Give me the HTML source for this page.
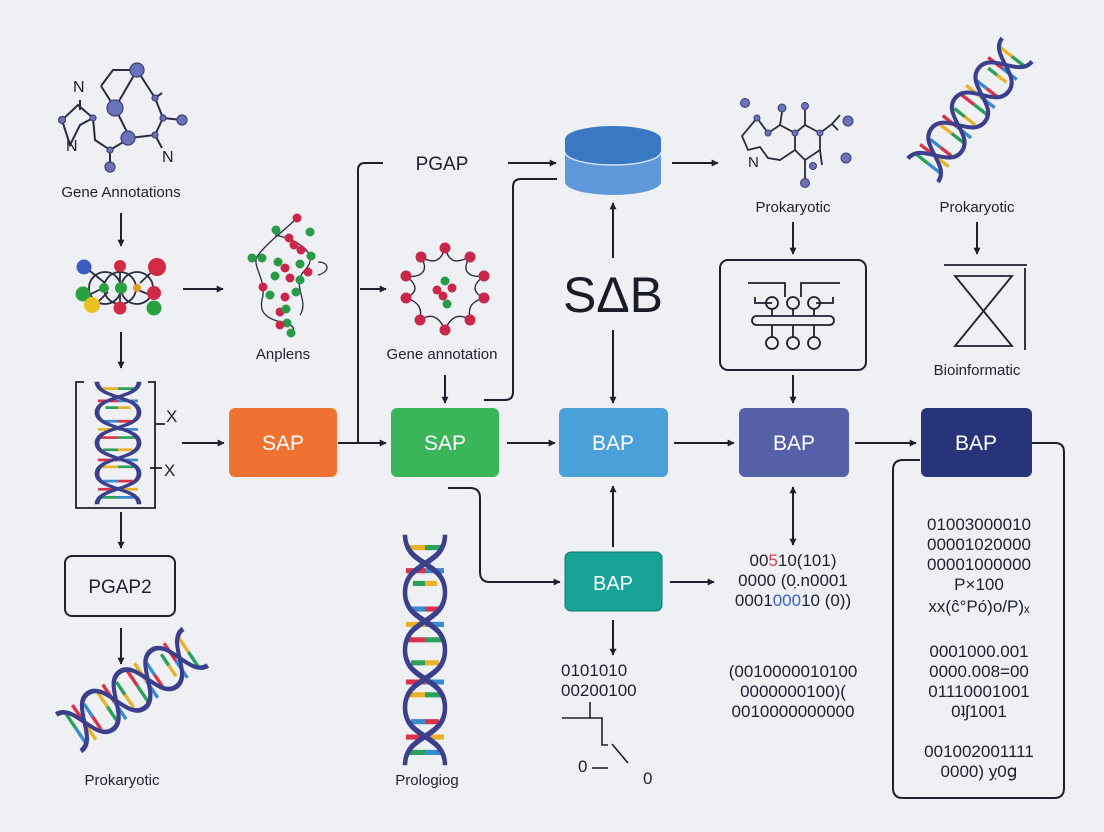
<!DOCTYPE html>
<html><head><meta charset="utf-8"><style>
html,body{margin:0;padding:0;background:#eef0f3;}
svg{display:block}
text{font-family:"Liberation Sans",sans-serif;}
</style></head><body>
<svg width="1104" height="832" viewBox="0 0 1104 832" xmlns="http://www.w3.org/2000/svg">
<defs>
<marker id="ah" viewBox="0 0 10 10" refX="9" refY="5" markerWidth="7" markerHeight="7" orient="auto-start-reverse" markerUnits="userSpaceOnUse">
<path d="M0,0 L10,5 L0,10 z" fill="#1e2030"/></marker>
<g id="helix">
 <g stroke-width="4">
  <line x1="-16" y1="-80" x2="0" y2="-80" stroke="#e8b22a"/><line x1="0" y1="-80" x2="16" y2="-80" stroke="#2aa05a"/>
  <line x1="-19" y1="-62" x2="0" y2="-62" stroke="#d8334a"/><line x1="0" y1="-62" x2="19" y2="-62" stroke="#3a8ad0"/>
  <line x1="-12" y1="-52" x2="0" y2="-52" stroke="#2aa05a"/><line x1="0" y1="-52" x2="12" y2="-52" stroke="#e8b22a"/>
  <line x1="-14" y1="-32" x2="0" y2="-32" stroke="#3a8ad0"/><line x1="0" y1="-32" x2="14" y2="-32" stroke="#d8334a"/>
  <line x1="-19" y1="-20" x2="0" y2="-20" stroke="#e8b22a"/><line x1="0" y1="-20" x2="19" y2="-20" stroke="#3a8ad0"/>
  <line x1="-19" y1="-8" x2="0" y2="-8" stroke="#d8334a"/><line x1="0" y1="-8" x2="19" y2="-8" stroke="#2aa05a"/>
  <line x1="-14" y1="10" x2="0" y2="10" stroke="#2aa05a"/><line x1="0" y1="10" x2="14" y2="10" stroke="#e8b22a"/>
  <line x1="-19" y1="25" x2="0" y2="25" stroke="#d8334a"/><line x1="0" y1="25" x2="19" y2="25" stroke="#3a8ad0"/>
  <line x1="-17" y1="35" x2="0" y2="35" stroke="#e8b22a"/><line x1="0" y1="35" x2="17" y2="35" stroke="#2aa05a"/>
  <line x1="-14" y1="56" x2="0" y2="56" stroke="#3a8ad0"/><line x1="0" y1="56" x2="14" y2="56" stroke="#d8334a"/>
  <line x1="-19" y1="68" x2="0" y2="68" stroke="#d8334a"/><line x1="0" y1="68" x2="19" y2="68" stroke="#e8b22a"/>
  <line x1="-17" y1="80" x2="0" y2="80" stroke="#2aa05a"/><line x1="0" y1="80" x2="17" y2="80" stroke="#3a8ad0"/>
 </g>
 <g fill="none" stroke="#3c3f8c" stroke-width="4.5">
  <path d="M-20,-90 C-20,-65 20,-70 20,-45 C20,-20 -20,-25 -20,0 C-20,25 20,20 20,45 C20,70 -20,65 -20,90"/>
  <path d="M20,-90 C20,-65 -20,-70 -20,-45 C-20,-20 20,-25 20,0 C20,25 -20,20 -20,45 C-20,70 20,65 20,90"/>
 </g>
</g>
</defs>
<rect width="1104" height="832" fill="#eef0f3"/>

<g stroke="#2a2c40" stroke-width="2" fill="none">
 <polyline points="101,86 113,70 137,70"/>
 <polyline points="101,86 115,108 137,70 155,98 163,118 155,135 130,138 110,150 95,140 93,118 80,125 70,145 62,120 78,105 93,118"/>
 <line x1="115" y1="108" x2="130" y2="138"/><line x1="110" y1="150" x2="110" y2="167"/>
 <line x1="155" y1="98" x2="162" y2="93"/><line x1="163" y1="118" x2="182" y2="120"/><line x1="155" y1="135" x2="162" y2="148"/>
 <line x1="80" y1="100" x2="80" y2="110"/>
</g>
<g fill="#6a72b8" stroke="#3c3f7a" stroke-width="1.2">
 <circle cx="137" cy="70" r="7"/><circle cx="115" cy="108" r="8"/><circle cx="128" cy="138" r="7"/><circle cx="182" cy="120" r="5"/>
 <circle cx="110" cy="167" r="5"/><circle cx="62" cy="120" r="3.5"/><circle cx="93" cy="118" r="3"/><circle cx="155" cy="135" r="3"/><circle cx="163" cy="118" r="3"/><circle cx="110" cy="150" r="3"/><circle cx="155" cy="98" r="3"/>
</g>
<text x="73" y="92" font-size="16" fill="#1e2030">N</text>
<text x="66" y="151" font-size="16" fill="#1e2030">N</text>
<text x="162" y="162" font-size="16" fill="#1e2030">N</text>
<text x="121" y="197" font-size="15" text-anchor="middle" fill="#1e2030">Gene Annotations</text>

<g stroke="#1e2030" stroke-width="2" fill="none">
 <line x1="121" y1="213" x2="121" y2="246" marker-end="url(#ah)"/>
 <line x1="121" y1="332" x2="121" y2="368" marker-end="url(#ah)"/>
 <line x1="183" y1="289" x2="223" y2="289" marker-end="url(#ah)"/>
 <line x1="182" y1="443" x2="224" y2="443" marker-end="url(#ah)"/>
 <line x1="121" y1="512" x2="121" y2="548" marker-end="url(#ah)"/>
 <line x1="121" y1="628" x2="121" y2="664" marker-end="url(#ah)"/>
 <line x1="338" y1="443" x2="386" y2="443" marker-end="url(#ah)"/>
 <path d="M358,443 L358,170 Q358,163 365,163 L383,163"/>
 <line x1="360" y1="289" x2="386" y2="289" marker-end="url(#ah)"/>
 <line x1="508" y1="163" x2="556" y2="163" marker-end="url(#ah)"/>
 <line x1="445" y1="375" x2="445" y2="403" marker-end="url(#ah)"/>
 <path d="M484,400 L505,400 Q513,400 513,392 L513,187 Q513,179 521,179 L557,179"/>
 <line x1="672" y1="163" x2="718" y2="163" marker-end="url(#ah)"/>
 <line x1="613" y1="258" x2="613" y2="203" marker-end="url(#ah)"/>
 <line x1="613" y1="330" x2="613" y2="403" marker-end="url(#ah)"/>
 <line x1="507" y1="443" x2="555" y2="443" marker-end="url(#ah)"/>
 <line x1="674" y1="443" x2="734" y2="443" marker-end="url(#ah)"/>
 <line x1="855" y1="443" x2="916" y2="443" marker-end="url(#ah)"/>
 <line x1="793" y1="222" x2="793" y2="254" marker-end="url(#ah)"/>
 <line x1="793" y1="375" x2="793" y2="403" marker-end="url(#ah)"/>
 <line x1="977" y1="222" x2="977" y2="254" marker-end="url(#ah)"/>
 <path d="M448,488 L470,488 Q480,488 480,498 L480,572 Q480,582 490,582 L560,582" marker-end="url(#ah)"/>
 <line x1="613" y1="547" x2="613" y2="486" marker-end="url(#ah)"/>
 <line x1="613" y1="620" x2="613" y2="655" marker-end="url(#ah)"/>
 <line x1="670" y1="582" x2="714" y2="582" marker-end="url(#ah)"/>
 <line x1="793" y1="510" x2="793" y2="487" marker-end="url(#ah)"/>
 <line x1="793" y1="510" x2="793" y2="545" marker-end="url(#ah)"/>
 <path d="M1032,443 L1055,443 Q1064,443 1064,452 L1064,788 Q1064,798 1054,798 L903,798 Q893,798 893,788 L893,470 Q893,460 903,460 L920,460"/>
</g>

<text x="442" y="170" font-size="19" text-anchor="middle" fill="#1e2030">PGAP</text>

<g stroke="#2a2c40" stroke-width="1.8" fill="none">
 <path d="M85,267 L105,283 M157,267 L140,283 M120,265 L120,310 M85,297 L103,288 M155,297 L138,290 M95,305 L108,292"/>
 <circle cx="120" cy="288" r="16"/><circle cx="105" cy="288" r="16"/><circle cx="137" cy="288" r="16"/>
</g>
<g stroke-width="1">
 <circle cx="84" cy="267" r="7.5" fill="#3a5cc0"/><circle cx="120" cy="266" r="6" fill="#d22a45"/><circle cx="157" cy="267" r="9" fill="#d22a45"/>
 <circle cx="83" cy="294" r="7.5" fill="#2aa040"/><circle cx="121" cy="288" r="6" fill="#2aa040"/><circle cx="104" cy="288" r="5" fill="#2aa040"/><circle cx="137" cy="288" r="4" fill="#e09a20"/><circle cx="154" cy="293" r="7" fill="#d22a45"/>
 <circle cx="92" cy="305" r="8" fill="#e8c020"/><circle cx="120" cy="308" r="6.5" fill="#d22a45"/><circle cx="154" cy="308" r="7.5" fill="#2aa040"/>
</g>

<g stroke="#2a2c40" stroke-width="1.3" fill="none">
 <path d="M297,218 C285,230 270,240 258,255 C250,265 268,280 262,300 C258,318 275,320 290,325 C300,330 285,335 292,335 M275,235 C300,240 320,255 305,270 C290,285 310,300 300,315 M318,262 C330,262 330,272 318,275"/>
</g>
<g>
 <circle cx="297" cy="218" r="4.5" fill="#c8264a"/><circle cx="310" cy="232" r="4.5" fill="#2a9a48"/><circle cx="276" cy="230" r="4.5" fill="#2a9a48"/><circle cx="289" cy="238" r="4.5" fill="#c8264a"/><circle cx="294" cy="245" r="4.5" fill="#c8264a"/>
 <circle cx="301" cy="250" r="4.5" fill="#c8264a"/><circle cx="252" cy="258" r="4.5" fill="#2a9a48"/><circle cx="262" cy="258" r="4.5" fill="#2a9a48"/><circle cx="311" cy="256" r="4.5" fill="#2a9a48"/><circle cx="278" cy="262" r="4.5" fill="#2a9a48"/>
 <circle cx="285" cy="268" r="4.5" fill="#c8264a"/><circle cx="300" cy="264" r="4.5" fill="#2a9a48"/><circle cx="308" cy="272" r="4.5" fill="#c8264a"/><circle cx="275" cy="276" r="4.5" fill="#2a9a48"/><circle cx="290" cy="278" r="4.5" fill="#c8264a"/>
 <circle cx="300" cy="280" r="4.5" fill="#2a9a48"/><circle cx="263" cy="287" r="4.5" fill="#c8264a"/><circle cx="270" cy="295" r="4.5" fill="#2a9a48"/><circle cx="285" cy="297" r="4.5" fill="#c8264a"/><circle cx="296" cy="292" r="4.5" fill="#2a9a48"/>
 <circle cx="280" cy="312" r="4.5" fill="#c8264a"/><circle cx="286" cy="309" r="4.5" fill="#2a9a48"/><circle cx="287" cy="323" r="4.5" fill="#2a9a48"/><circle cx="280" cy="325" r="4.5" fill="#c8264a"/><circle cx="291" cy="333" r="4.5" fill="#2a9a48"/>
</g>
<text x="283" y="359" font-size="15" text-anchor="middle" fill="#1e2030">Anplens</text>

<g stroke="#2a2c40" stroke-width="1.4" fill="none">
 <path d="M445,248 C440,265 430,262 421,257 C430,272 420,278 406,276 C418,285 418,292 406,298 C420,302 422,310 420,320 C432,312 440,318 445,330 C450,318 458,312 470,320 C468,308 470,302 484,298 C472,292 472,285 484,276 C470,278 460,272 470,257 C458,262 450,265 445,248"/>
</g>
<g>
 <circle cx="445" cy="248" r="5.5" fill="#c8264a"/><circle cx="421" cy="257" r="5.5" fill="#c8264a"/><circle cx="470" cy="257" r="5.5" fill="#c8264a"/><circle cx="406" cy="276" r="5.5" fill="#c8264a"/><circle cx="484" cy="276" r="5.5" fill="#c8264a"/>
 <circle cx="406" cy="298" r="5.5" fill="#c8264a"/><circle cx="484" cy="298" r="5.5" fill="#c8264a"/><circle cx="420" cy="320" r="5.5" fill="#c8264a"/><circle cx="470" cy="320" r="5.5" fill="#c8264a"/><circle cx="445" cy="330" r="5.5" fill="#c8264a"/>
 <circle cx="445" cy="281" r="4.5" fill="#2a9a48"/><circle cx="437" cy="290" r="4.5" fill="#c8264a"/><circle cx="452" cy="288" r="4.5" fill="#c8264a"/><circle cx="443" cy="296" r="4.5" fill="#c8264a"/><circle cx="447" cy="304" r="4.5" fill="#2a9a48"/>
</g>
<text x="442" y="359" font-size="15" text-anchor="middle" fill="#1e2030">Gene annotation</text>

<path d="M565,139 L565,182 A48,13 0 0 0 661,182 L661,139 Z" fill="#5f98da"/>
<path d="M565,139 L565,152 A48,13 0 0 0 661,152 L661,139 Z" fill="#3a78c4"/>
<ellipse cx="613" cy="139" rx="48" ry="13" fill="#3a78c4"/>
<path d="M565,152 A48,13 0 0 0 661,152" fill="none" stroke="#cfe0f4" stroke-width="1.5"/>

<text x="613" y="312" font-size="50" text-anchor="middle" fill="#1a1c28">SΔB</text>

<g stroke="#2a2c40" stroke-width="1.8" fill="none">
 <polyline points="757,118 768,133 780,125 795,133 805,125 820,133 820,150 805,160 795,150 780,160 768,158 760,147 748,150 742,136 757,118"/>
 <line x1="795" y1="133" x2="795" y2="150"/><line x1="780" y1="125" x2="782" y2="112"/><line x1="805" y1="125" x2="805" y2="110"/><line x1="805" y1="160" x2="805" y2="182"/>
 <line x1="820" y1="133" x2="832" y2="124"/><line x1="832" y1="124" x2="840" y2="115"/><line x1="832" y1="124" x2="838" y2="130"/><line x1="820" y1="150" x2="822" y2="165"/>
</g>
<g fill="#6a72b8" stroke="#3c3f7a" stroke-width="1">
 <circle cx="745" cy="103" r="4.5"/><circle cx="782" cy="108" r="4"/><circle cx="805" cy="106" r="3.5"/><circle cx="848" cy="121" r="5"/><circle cx="846" cy="158" r="5"/><circle cx="805" cy="183" r="4.5"/><circle cx="813" cy="166" r="3.5"/><circle cx="757" cy="118" r="3"/><circle cx="820" cy="133" r="3"/><circle cx="768" cy="133" r="3"/><circle cx="795" cy="133" r="3"/>
</g>
<text x="748" y="167" font-size="15" fill="#1e2030">N</text>
<text x="793" y="212" font-size="15" text-anchor="middle" fill="#1e2030">Prokaryotic</text>

<rect x="720" y="260" width="146" height="110" rx="8" fill="none" stroke="#1e2030" stroke-width="2"/>
<g stroke="#1e2030" stroke-width="1.8" fill="none">
 <polyline points="748,283 785,283 785,297"/><polyline points="801,297 801,283 840,283"/>
 <polyline points="755,297 755,303 772,303"/><polyline points="833,297 833,303 816,303"/>
 <circle cx="772" cy="303" r="6"/><circle cx="793" cy="303" r="6"/><circle cx="814" cy="303" r="6"/>
 <line x1="772" y1="309" x2="772" y2="316"/><line x1="793" y1="309" x2="793" y2="316"/><line x1="814" y1="309" x2="814" y2="316"/>
 <rect x="752" y="316" width="82" height="9" rx="4.5"/>
 <line x1="772" y1="325" x2="772" y2="337"/><line x1="793" y1="325" x2="793" y2="337"/><line x1="814" y1="325" x2="814" y2="337"/>
 <circle cx="772" cy="343" r="6"/><circle cx="793" cy="343" r="6"/><circle cx="814" cy="343" r="6"/>
</g>

<use href="#helix" transform="translate(970,110) rotate(38) scale(0.95,0.85)"/>
<text x="977" y="212" font-size="15" text-anchor="middle" fill="#1e2030">Prokaryotic</text>
<g stroke="#1e2030" stroke-width="1.8" fill="none">
 <line x1="944" y1="265" x2="1027" y2="265"/>
 <path d="M955,276 L1012,276 L955,346 L1012,346 Z"/>
 <line x1="1025" y1="268" x2="1025" y2="350"/>
</g>
<text x="977" y="375" font-size="15" text-anchor="middle" fill="#1e2030">Bioinformatic</text>

<g stroke="#1e2030" stroke-width="1.8" fill="none">
 <path d="M84,382 L76,382 L76,508 L155,508 L155,382 L148,382"/>
 <line x1="155" y1="424" x2="165" y2="424"/><line x1="150" y1="468" x2="162" y2="468"/>
</g>
<use href="#helix" transform="translate(118,443) scale(1.05,0.68)"/>
<text x="166" y="422" font-size="17" fill="#1e2030">X</text>
<text x="164" y="476" font-size="17" fill="#1e2030">X</text>

<rect x="65" y="556" width="110" height="60" rx="7" fill="none" stroke="#1e2030" stroke-width="2"/>
<text x="120" y="593" font-size="19" text-anchor="middle" fill="#1e2030">PGAP2</text>

<g transform="translate(132,690) rotate(56) scale(1.1,0.85)">
 <use href="#helix"/>
</g>
<text x="122" y="785" font-size="15" text-anchor="middle" fill="#1e2030">Prokaryotic</text>

<use href="#helix" transform="translate(425,650) scale(1.0,1.28)"/>
<text x="427" y="785" font-size="15" text-anchor="middle" fill="#1e2030">Prologiog</text>

<rect x="229" y="408" width="108" height="69" rx="6" fill="#f07232"/>
<text x="283" y="450" font-size="21" text-anchor="middle" fill="#fff">SAP</text>
<rect x="391" y="408" width="108" height="69" rx="6" fill="#3bb55a"/>
<text x="445" y="450" font-size="21" text-anchor="middle" fill="#fff">SAP</text>
<rect x="559" y="408" width="109" height="69" rx="6" fill="#4aa0d8"/>
<text x="613" y="450" font-size="21" text-anchor="middle" fill="#fff">BAP</text>
<rect x="739" y="408" width="110" height="69" rx="6" fill="#5560a8"/>
<text x="794" y="450" font-size="21" text-anchor="middle" fill="#fff">BAP</text>
<rect x="921" y="408" width="111" height="69" rx="6" fill="#28347a"/>
<text x="976" y="450" font-size="21" text-anchor="middle" fill="#fff">BAP</text>
<rect x="565" y="552" width="97" height="59" rx="6" fill="#17a398" stroke="#127a72" stroke-width="1"/>
<text x="613" y="590" font-size="20" text-anchor="middle" fill="#fff">BAP</text>

<g font-size="17" fill="#1e2030" text-anchor="middle">
 <text x="793" y="566">00<tspan fill="#d84050">5</tspan>10(101)</text>
 <text x="793" y="586">0000 (0.̣n0001</text>
 <text x="793" y="606">0001<tspan fill="#3a60c8">000</tspan>10 (0))</text>
 <text x="793" y="677">(0010000010100</text>
 <text x="793" y="697">0000000100)(</text>
 <text x="793" y="717">0010000000000</text>
 <text x="979" y="530">01003000010</text>
 <text x="979" y="550">00001020000</text>
 <text x="979" y="570">00001000000</text>
 <text x="979" y="590">P×100</text>
 <text x="979" y="612">xx(ĉ°Pó)o/P)ₓ</text>
 <text x="979" y="657">0001000.001</text>
 <text x="979" y="677">0000.008=00</text>
 <text x="979" y="697">01110001001</text>
 <text x="979" y="717">0ʇʃ1001</text>
 <text x="979" y="757">001002001111</text>
 <text x="979" y="777">0000) ỵ0ց</text>
</g>
<text x="561" y="676" font-size="17" fill="#1e2030">0101010</text>
<text x="561" y="696" font-size="17" fill="#1e2030">00200100</text>
<g stroke="#1e2030" stroke-width="1.6" fill="none">
 <polyline points="590,702 590,718 562,718"/><polyline points="590,718 602,718 602,745 608,745"/>
 <polyline points="608,768 592,768 M608,768 608,738 660,738"/><line x1="612" y1="744" x2="628" y2="763"/>
</g>
<text x="578" y="772" font-size="17" fill="#1e2030">0</text>
<text x="643" y="784" font-size="17" fill="#1e2030">0</text>
</svg>
</body></html>
